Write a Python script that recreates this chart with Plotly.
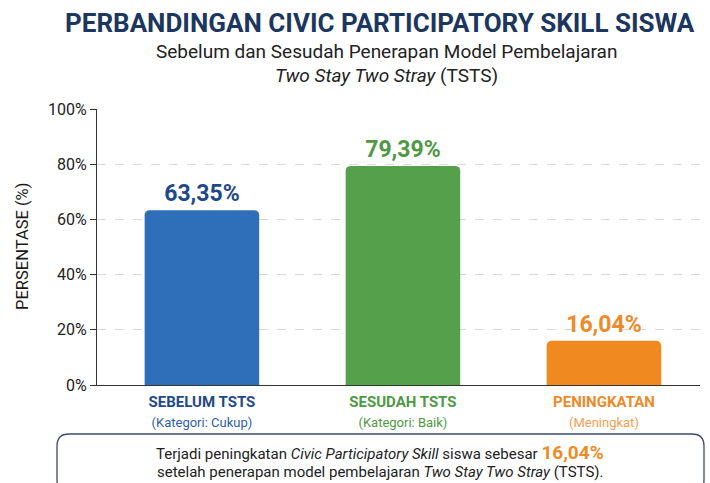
import plotly.graph_objects as go

categories = ["SEBELUM TSTS", "SESUDAH TSTS", "PENINGKATAN"]
subcats = ["(Kategori: Cukup)", "(Kategori: Baik)", "(Meningkat)"]
values = [63.35, 79.39, 16.04]
value_labels = ["63,35%", "79,39%", "16,04%"]
bar_colors = ["#2f6fba", "#55a04a", "#f0891f"]
label_colors = ["#1f4a8a", "#4e9a44", "#ee8a2a"]
sub_colors = ["#2f5fa6", "#4e9a44", "#f0a050"]
yticks = [0, 20, 40, 60, 80, 100]
ytick_labels = ["0%", "20%", "40%", "60%", "80%", "100%"]

FONT = "Roboto"
W, H = 710, 483
ML, MR, MT, MB = 97, 10, 109, 98

ticktext = [
    f"<span style='color:{c}'><b>{cat}</b></span><br><span style='font-size:13px;color:{sc}'>{sub}</span>"
    for cat, sub, c, sc in zip(categories, subcats, label_colors, sub_colors)
]

fig = go.Figure()
fig.add_trace(go.Bar(
    x=categories, y=values,
    marker=dict(color=bar_colors, line=dict(width=0), cornerradius=5),
    width=0.57,
    text=[f"<b>{t}</b>" for t in value_labels],
    textposition="outside",
    textfont=dict(family=FONT, size=23, color=label_colors),
    cliponaxis=False,
    hoverinfo="skip",
))

def px_to_paper_x(px):
    return (px - ML) / (W - ML - MR)

def px_to_paper_y(py):
    return (H - MB - py) / (H - MT - MB)

# rounded box
x0, x1, y0, y1, r = 57, 704, 434, 492, 12
def P(x, y):
    return f"{px_to_paper_x(x):.5f},{px_to_paper_y(y):.5f}"
path = (f"M {P(x0+r, y0)} L {P(x1-r, y0)} Q {P(x1, y0)} {P(x1, y0+r)} "
        f"L {P(x1, y1-r)} Q {P(x1, y1)} {P(x1-r, y1)} L {P(x0+r, y1)} "
        f"Q {P(x0, y1)} {P(x0, y1-r)} L {P(x0, y0+r)} Q {P(x0, y0)} {P(x0+r, y0)} Z")
fig.add_shape(type="path", path=path, xref="paper", yref="paper",
              line=dict(color="#3b4a6b", width=1.3), fillcolor="white", layer="below")

annotations = [
    dict(text="<b>PERBANDINGAN CIVIC PARTICIPATORY SKILL SISWA</b>",
         x=px_to_paper_x(380), y=px_to_paper_y(23), font=dict(family=FONT, size=26, color="#1b3660")),
    dict(text="Sebelum dan Sesudah Penerapan Model Pembelajaran",
         x=px_to_paper_x(386), y=px_to_paper_y(52), font=dict(family=FONT, size=19, color="#222222")),
    dict(text="<i>Two Stay Two Stray</i> (TSTS)",
         x=px_to_paper_x(386), y=px_to_paper_y(76), font=dict(family=FONT, size=19, color="#222222")),
    dict(text="PERSENTASE (%)", textangle=-90,
         x=px_to_paper_x(22), y=px_to_paper_y(247), font=dict(family=FONT, size=16.5, color="#1a1a1a")),
    dict(text="Terjadi peningkatan <i>Civic Participatory Skill</i> siswa sebesar "
              "<span style='font-size:19px;color:#f08a24'><b>16,04%</b></span>",
         x=px_to_paper_x(380), y=px_to_paper_y(452), font=dict(family=FONT, size=15, color="#222222")),
    dict(text="setelah penerapan model pembelajaran <i>Two Stay Two Stray</i> (TSTS).",
         x=px_to_paper_x(380), y=px_to_paper_y(472), font=dict(family=FONT, size=15, color="#222222")),
]
for a in annotations:
    a.update(xref="paper", yref="paper", showarrow=False, xanchor="center", yanchor="middle")
fig.update_layout(annotations=annotations)

fig.update_layout(
    width=W, height=H,
    margin=dict(l=ML, r=MR, t=MT, b=MB, autoexpand=False),
    paper_bgcolor="white", plot_bgcolor="white",
    showlegend=False,
    font=dict(family=FONT, color="#222222"),
    xaxis=dict(
        type="category", range=[-0.522, 2.478], automargin=False,
        tickmode="array", tickvals=categories, ticktext=ticktext,
        tickfont=dict(family=FONT, size=15),
        showline=True, linecolor="#333333", linewidth=1.2,
        ticks="outside", ticklen=3, tickcolor="rgba(0,0,0,0)",
        showgrid=False, fixedrange=True,
    ),
    yaxis=dict(
        range=[0, 100], tickmode="array", tickvals=yticks, ticktext=ytick_labels,
        automargin=False,
        tickfont=dict(family=FONT, size=16, color="#222222"),
        showline=True, linecolor="#333333", linewidth=1.2,
        ticks="outside", ticklen=6, tickcolor="#333333",
        showgrid=True, gridcolor="#d9d9d9", griddash="dash", gridwidth=1,
        zeroline=False, fixedrange=True,
    ),
)

fig.write_html("out.html", config={"displayModeBar": False},
               post_script="document.body.style.margin='0';document.body.style.overflow='hidden';")
